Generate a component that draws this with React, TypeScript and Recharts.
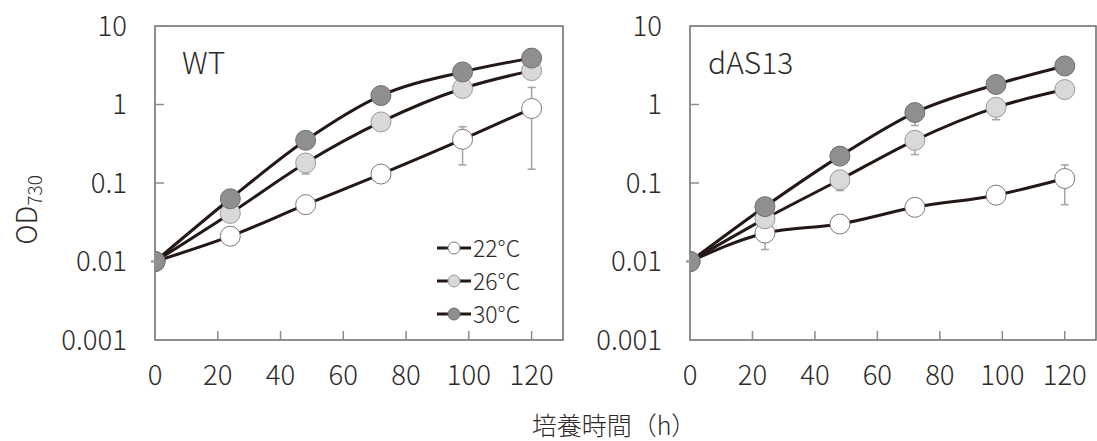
import React from "react";
import {
  LineChart,
  Line,
  XAxis,
  YAxis,
  ErrorBar,
  ReferenceArea,
  Legend,
} from "recharts";

// ---- data ----
const hours = [0, 24, 48, 72, 98, 120];
const xTicks = [0, 20, 40, 60, 80, 100, 120];
const yTicks = [0.001, 0.01, 0.1, 1, 10];
const seriesNames = ["22°C", "26°C", "30°C"];

// WT panel
const wt22 = [0.01, 0.021, 0.053, 0.13, 0.36, 0.89];
const wt26 = [0.01, 0.041, 0.18, 0.6, 1.6, 2.7];
const wt30 = [0.01, 0.063, 0.35, 1.3, 2.6, 3.9];
// error bar bounds (null = no visible bar)
const wt22Low = [null, null, null, null, 0.17, 0.15];
const wt22High = [null, null, null, null, 0.52, 1.65];
const wt26Low = [null, null, 0.13, null, null, null];
const wt26High = [null, null, null, null, null, null];
const wt30Low = [null, null, null, null, null, null];
const wt30High = [null, null, null, null, null, null];

// dAS13 panel
const d22 = [0.01, 0.023, 0.03, 0.049, 0.07, 0.114];
const d26 = [0.01, 0.035, 0.11, 0.35, 0.92, 1.55];
const d30 = [0.01, 0.05, 0.22, 0.79, 1.8, 3.1];
const d22Low = [null, 0.0142, null, null, null, 0.053];
const d22High = [null, null, null, null, null, 0.17];
const d26Low = [null, null, 0.08, 0.23, 0.64, null];
const d26High = [null, null, null, null, null, null];
const d30Low = [null, null, null, 0.54, null, null];
const d30High = [null, null, null, null, null, null];

const FONT = "'Noto Sans CJK JP', 'Noto Sans', sans-serif";
const WEIGHT = 300;
const TEXT = "#2e2a2a";
const LINE = "#231815";
const BOX = "#6a6a6a";
const TICKLINE = "#8c8c8c";
const ERR = "#a3a3a3";
const fills = ["#ffffff", "#d9d9d9", "#8f8f8f"];
const strokes = ["#7a7a7a", "#9a9a9a", "#6e6e6e"];

type Arr = (number | null)[];

function errDelta(v: number, lo: number | null, hi: number | null) {
  return [lo == null ? 0 : v - lo, hi == null ? 0 : hi - v];
}

function buildRows(vals: number[][], lows: Arr[], highs: Arr[]) {
  return hours.map((t, i) => {
    const row: any = { t };
    vals.forEach((s, k) => {
      row["v" + k] = s[i];
      row["e" + k] = errDelta(s[i], lows[k][i], highs[k][i]);
    });
    return row;
  });
}

const wtRows = buildRows([wt22, wt26, wt30], [wt22Low, wt26Low, wt30Low], [wt22High, wt26High, wt30High]);
const dRows = buildRows([d22, d26, d30], [d22Low, d26Low, d30Low], [d22High, d26High, d30High]);

const LegendContent = () => (
  <div style={{ fontFamily: FONT }}>
    {seriesNames.map((n, k) => (
      <div key={n} style={{ display: "flex", alignItems: "center", height: 33 }}>
        <svg width={34} height={16} style={{ display: "block" }}>
          <line x1={0} y1={8} x2={34} y2={8} stroke={LINE} strokeWidth={3} />
          <circle cx={17} cy={8} r={6} fill={fills[k]} stroke={strokes[k]} strokeWidth={1} />
        </svg>
        <span style={{ fontSize: 23, fontWeight: WEIGHT, color: TEXT, marginLeft: 2, lineHeight: 1 }}>{n}</span>
      </div>
    ))}
  </div>
);

const tickStyle = { fontSize: 27.5, fill: TEXT, fontFamily: FONT, fontWeight: WEIGHT };

function Panel({
  rows,
  width,
  yAxisWidth,
  marginRight,
  withLegend,
}: {
  rows: any[];
  width: number;
  yAxisWidth: number;
  marginRight: number;
  withLegend: boolean;
}) {
  return (
    <LineChart
      width={width}
      height={441}
      data={rows}
      margin={{ top: 26, right: marginRight, bottom: 0, left: 0 }}
      style={{ fontFamily: FONT }}
    >
      <ReferenceArea
        x1={0}
        x2={130}
        y1={0.001}
        y2={10}
        fill="none"
        stroke={BOX}
        strokeWidth={1.5}
        ifOverflow="visible"
      />
      <XAxis
        dataKey="t"
        type="number"
        domain={[0, 130]}
        ticks={xTicks}
        height={101}
        axisLine={false}
        tickLine={{ stroke: TICKLINE, strokeWidth: 1.5 }}
        tickSize={-9}
        tickMargin={34}
        tick={tickStyle}
        allowDataOverflow
      />
      <YAxis
        type="number"
        scale="log"
        domain={[0.001, 10]}
        ticks={yTicks}
        width={yAxisWidth}
        axisLine={false}
        tickLine={{ stroke: TICKLINE, strokeWidth: 1.5 }}
        tickSize={-9}
        tickMargin={37}
        tick={tickStyle}
        tickFormatter={(v: number) => String(v)}
        allowDataOverflow
      />
      {[0, 1, 2].map((k) => (
        <Line
          key={k}
          dataKey={"v" + k}
          name={seriesNames[k]}
          type="monotone"
          stroke={LINE}
          strokeWidth={3}
          isAnimationActive={false}
          dot={{ r: 10, fill: fills[k], stroke: strokes[k], strokeWidth: 1, fillOpacity: 1 }}
          activeDot={false}
        >
          <ErrorBar dataKey={"e" + k} direction="y" width={4} stroke={ERR} strokeWidth={1.5} />
        </Line>
      ))}
      {withLegend && (
        <Legend
          layout="vertical"
          align="center"
          verticalAlign="middle"
          content={<LegendContent />}
          wrapperStyle={{ position: "absolute", left: 437, top: 231, width: 130, height: 100 }}
        />
      )}
    </LineChart>
  );
}

export default function App() {
  return (
    <div
      style={{
        position: "absolute",
        left: 0,
        top: 0,
        width: 1097,
        height: 441,
        background: "#ffffff",
        fontFamily: FONT,
      }}
    >
      <div style={{ position: "absolute", left: 0, top: 0 }}>
        <Panel rows={wtRows} width={570} yAxisWidth={155} marginRight={7} withLegend={true} />
      </div>
      <div style={{ position: "absolute", left: 570, top: 0 }}>
        <Panel rows={dRows} width={527} yAxisWidth={120} marginRight={1} withLegend={false} />
      </div>
      <svg
        width={1097}
        height={441}
        style={{ position: "absolute", left: 0, top: 0, pointerEvents: "none" }}
      >
        <text x={182} y={74} fontSize={30} fontWeight={WEIGHT} fill={TEXT} fontFamily={FONT}>
          WT
        </text>
        <text x={708} y={74} fontSize={30} fontWeight={WEIGHT} fill={TEXT} fontFamily={FONT}>
          dAS13
        </text>
        <text
          transform="translate(37,210) rotate(-90)"
          textAnchor="middle"
          fill={TEXT}
          fontFamily={FONT}
          fontWeight={WEIGHT}
        >
          <tspan fontSize={28}>OD</tspan>
          <tspan fontSize={19} dy={5}>730</tspan>
        </text>
        <text x={614} y={435} textAnchor="middle" fontSize={25} fontWeight={WEIGHT} fill={TEXT} fontFamily={FONT}>
          培養時間（h）
        </text>
      </svg>
    </div>
  );
}
